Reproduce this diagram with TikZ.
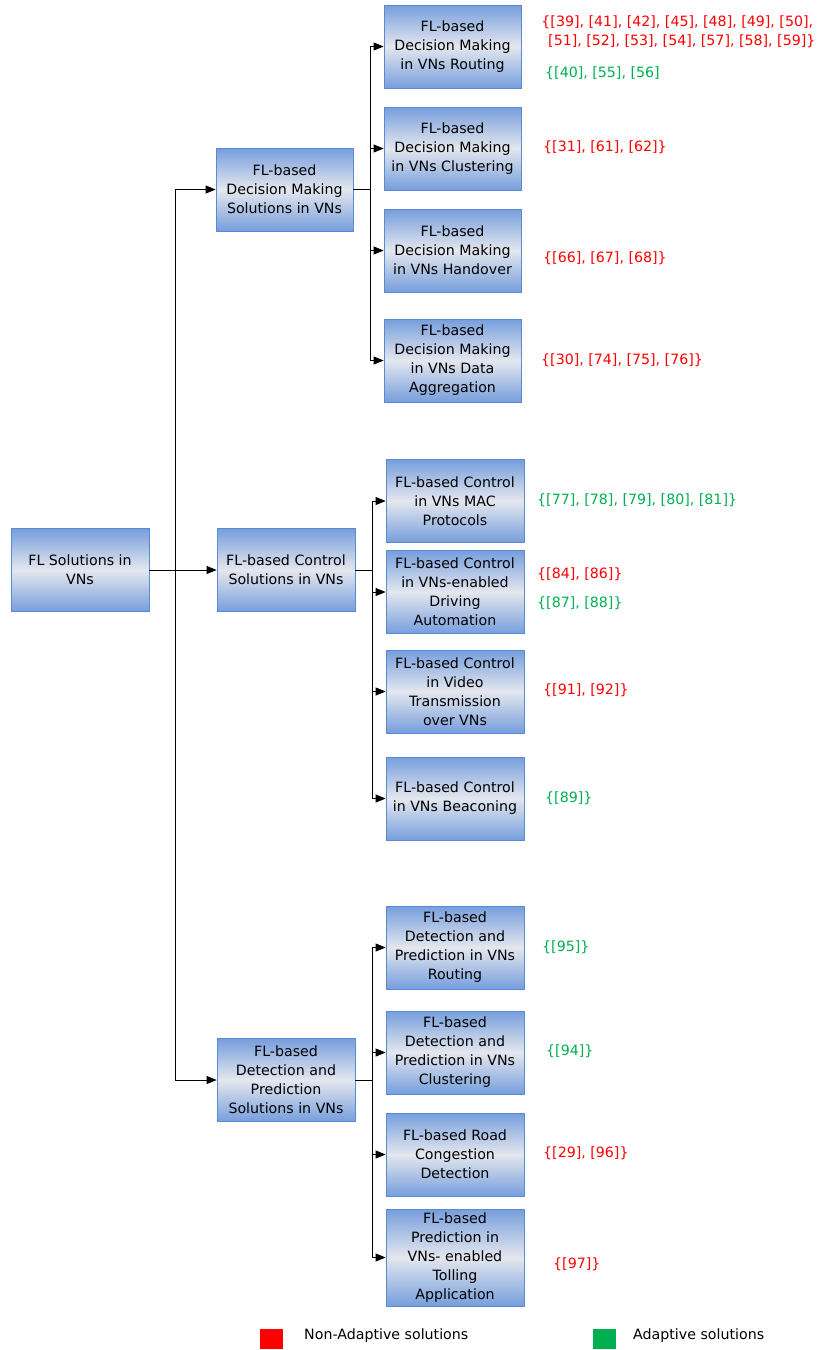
\documentclass[tikz,border=0pt]{standalone}
\usepackage{fontspec}
\setmainfont{DejaVu Sans}
\usetikzlibrary{arrows.meta}
\definecolor{boxtop}{RGB}{118,158,220}
\definecolor{boxmid}{RGB}{228,231,238}
\definecolor{boxline}{RGB}{90,138,208}
\definecolor{refred}{RGB}{255,0,0}
\definecolor{refgreen}{RGB}{0,176,80}
\tikzset{
  font=\fontsize{14.2}{19}\selectfont,
  % Set arrowhead
  >={Triangle[length=10pt,width=8pt]},
  % Box of the tree
  tbox/.style={draw=boxline, line width=0.8pt, shape=rectangle,
    top color=boxtop, bottom color=boxtop, middle color=boxmid,
    minimum width=138pt, minimum height=83pt, inner sep=1pt,
    align=center},
  % Reference lists
  rref/.style={text=refred, anchor=west, inner sep=0pt, align=center},
  gref/.style={text=refgreen, anchor=west, inner sep=0pt, align=center},
  % Links
  link/.style={draw, line width=0.8pt},
  % Legend square
  lsq/.style={minimum width=23pt, minimum height=20pt, inner sep=0pt},
}
\begin{document}
\begin{tikzpicture}[x=1pt, y=-1pt]
  \useasboundingbox (0,0) rectangle (817,1350);

  % root and first level
  \node[tbox] (root) at (80,570) {FL Solutions in\\VNs};
  \node[tbox, minimum width=137pt] (dm) at (284.5,189.5) {FL-based\\Decision Making\\Solutions in VNs};
  \node[tbox] (ctl) at (286,570) {FL-based Control\\Solutions in VNs};
  \node[tbox] (det) at (286,1080) {FL-based\\Detection and\\Prediction\\Solutions in VNs};

  % decision making
  \node[tbox, minimum width=137pt] (dmr) at (452.5,46.5) {FL-based\\Decision Making\\in VNs Routing};
  \node[tbox, minimum width=137pt] (dmc) at (452.5,148.5) {FL-based\\Decision Making\\in VNs Clustering};
  \node[tbox, minimum width=137pt] (dmh) at (452.5,250.5) {FL-based\\Decision Making\\in VNs Handover};
  \node[tbox, minimum width=137pt] (dma) at (452.5,360.5) {FL-based\\Decision Making\\in VNs Data\\Aggregation};

  % control
  \node[tbox] (cm) at (455,501) {FL-based Control\\in VNs MAC\\Protocols};
  \node[tbox] (cd) at (455,592) {FL-based Control\\in VNs-enabled\\Driving\\Automation};
  \node[tbox] (cv) at (455,691.5) {FL-based Control\\in Video\\Transmission\\over VNs};
  \node[tbox] (cb) at (455,798.5) {FL-based Control\\in VNs Beaconing};

  % detection and prediction
  \node[tbox] (pr) at (455,947.5) {FL-based\\Detection and\\Prediction in VNs\\Routing};
  \node[tbox] (pc) at (455,1052.5) {FL-based\\Detection and\\Prediction in VNs\\Clustering};
  \node[tbox] (pg) at (455,1154.5) {FL-based Road\\Congestion\\Detection};
  \node[tbox, minimum height=97pt] (pt) at (455,1257.5) {FL-based\\Prediction in\\VNs- enabled\\Tolling\\Application};

  % links
  \coordinate (t0) at (175,570);
  \draw[link, ->] (root) -- (ctl);
  \draw[link, ->] (t0) |- (dm.west);
  \draw[link, ->] (t0) |- (det.west);

  \coordinate (t1) at (370,189.5);
  \draw[link] (dm) -- (t1);
  \foreach \n in {dmr, dmc, dmh, dma}
    \draw[link, ->] (t1) |- (\n.west);

  \coordinate (t2) at (372,570);
  \draw[link] (ctl) -- (t2);
  \foreach \n in {cm, cd, cv, cb}
    \draw[link, ->] (t2) |- (\n.west);

  \coordinate (t3) at (372,1080);
  \draw[link] (det) -- (t3);
  \foreach \n in {pr, pc, pg, pt}
    \draw[link, ->] (t3) |- (\n.west);

  % references
  \node[rref] (rdmr) at (539,31.5) {\{[39], [41], [42], [45], [48], [49], [50],\\\hphantom{\{}[51], [52], [53], [54], [57], [58], [59]\}};
  \node[gref] (gdmr) at (545,73) {\{[40], [55], [56]};
  \node[rref] (rdmc) at (543,147) {\{[31], [61], [62]\}};
  \node[rref] (rdmh) at (543,258) {\{[66], [67], [68]\}};
  \node[rref] (rdma) at (541,360) {\{[30], [74], [75], [76]\}};
  \node[gref] (gcm) at (537,500) {\{[77], [78], [79], [80], [81]\}};
  \node[rref] (rcd) at (537,574) {\{[84], [86]\}};
  \node[gref] (gcd) at (537,603) {\{[87], [88]\}};
  \node[rref] (rcv) at (543,690) {\{[91], [92]\}};
  \node[gref] (gcb) at (545,798) {\{[89]\}};
  \node[gref] (gpr) at (542,947) {\{[95]\}};
  \node[gref] (gpc) at (546,1051) {\{[94]\}};
  \node[rref] (rpg) at (543,1153) {\{[29], [96]\}};
  \node[rref] (rpt) at (553,1264) {\{[97]\}};

  % legend
  \node[lsq, fill=refred] (lred) at (271.5,1339) {};
  \node[anchor=west, inner sep=0pt, font=\fontsize{14.2}{16}\selectfont] (tred) at (304,1336) {Non-Adaptive solutions};
  \node[lsq, fill=refgreen] (lgreen) at (604.5,1339) {};
  \node[anchor=west, inner sep=0pt, font=\fontsize{14.2}{16}\selectfont] (tgreen) at (633,1336) {Adaptive solutions};
\end{tikzpicture}
\end{document}
